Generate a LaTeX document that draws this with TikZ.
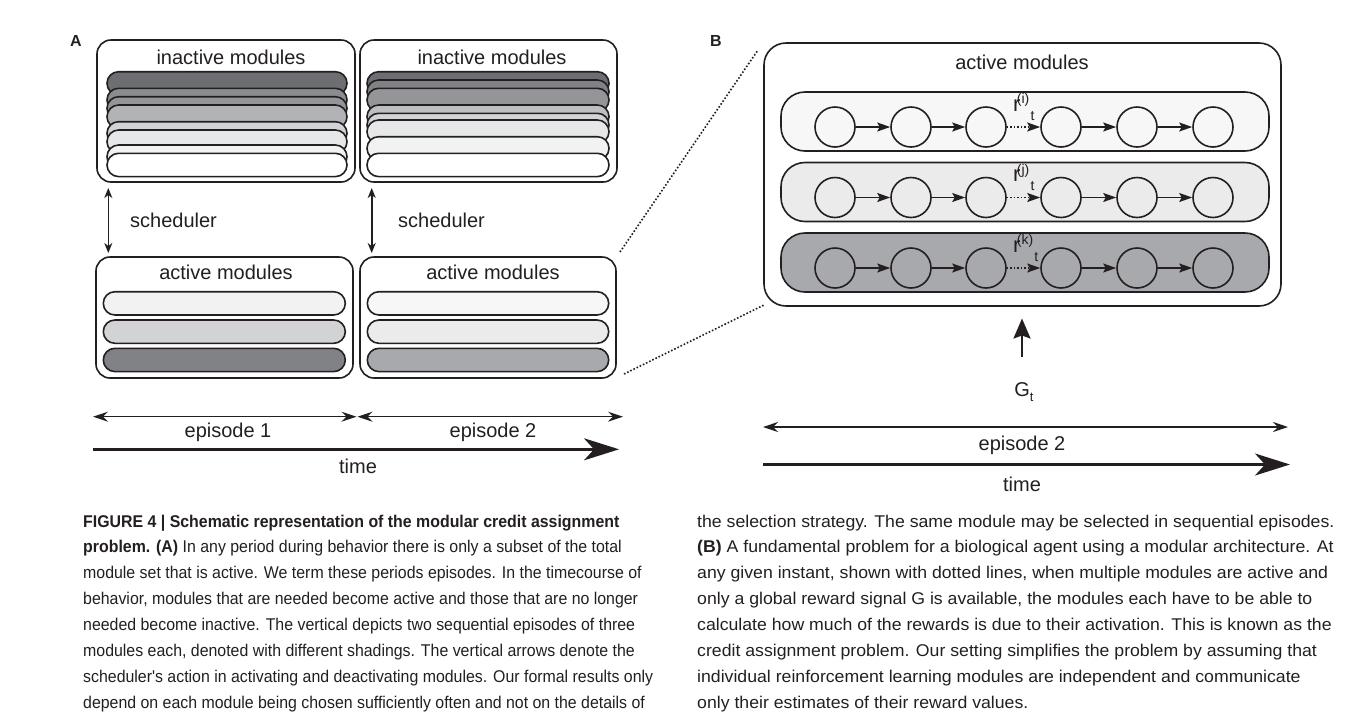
\documentclass[tikz,border=0pt]{standalone}
\usepackage{fontspec}
\setmainfont{Liberation Sans}
\newfontfamily\capfontL[FakeStretch=0.935]{Liberation Sans}
\newfontfamily\capfontR[FakeStretch=1.04]{Liberation Sans}
\usetikzlibrary{arrows.meta}
\definecolor{ink}{HTML}{231F20}
\definecolor{c6D6E71}{HTML}{6D6E71}
\definecolor{c808285}{HTML}{808285}
\definecolor{c8A8C8E}{HTML}{8A8C8E}
\definecolor{c939598}{HTML}{939598}
\definecolor{cB1B3B6}{HTML}{B1B3B6}
\definecolor{cBCBEC0}{HTML}{BCBEC0}
\definecolor{cD1D3D4}{HTML}{D1D3D4}
\definecolor{cE6E7E8}{HTML}{E6E7E8}
\definecolor{cF1F2F2}{HTML}{F1F2F2}
\definecolor{cF7F7F7}{HTML}{F7F7F7}
\definecolor{cEBEBEC}{HTML}{EBEBEC}
\definecolor{cA7A9AC}{HTML}{A7A9AC}
\definecolor{cFFFFFF}{HTML}{FFFFFF}
\tikzset{
  box/.style={draw=ink, line width=1.6pt, rounded corners=14pt, inner sep=0pt, fill=white},
  lbl/.style={font=\fontsize{20}{24}\selectfont, text=ink, inner sep=0pt},
  panel/.style={font=\fontsize{16}{19}\selectfont\bfseries, text=ink, inner sep=0pt},
  pill/.style={draw=ink, line width=1.6pt, rounded corners=11.6pt},
  row/.style={draw=ink, line width=1.6pt, rounded corners=24pt},
  st/.style={circle, draw=ink, line width=1.6pt, minimum size=40pt, inner sep=0pt},
  link/.style={draw=ink, line width=1.4pt, -{Stealth[length=13pt,width=9pt,inset=2.5pt]}},
  dlink/.style={link, dash pattern=on 1.5pt off 2pt},
  sched/.style={draw=ink, line width=1.6pt, {Stealth[length=10pt,width=8pt,inset=3pt]}-{Stealth[length=10pt,width=8pt,inset=3pt]}},
  epi/.style={draw=ink, line width=1.4pt, {Stealth[length=15pt,width=10pt,inset=5pt]}-{Stealth[length=15pt,width=10pt,inset=5pt]}},
  timearr/.style={draw=ink, line width=2.4pt, -{Stealth[length=35pt,width=22pt,inset=10pt]}},
  uparr/.style={draw=ink, line width=2.2pt, -{Stealth[length=20pt,width=17pt,inset=3pt]}},
  dotline/.style={draw=ink, line width=1.6pt, dash pattern=on 1.6pt off 1.9pt},
  capL/.style={font=\capfontL\fontsize{17}{20}\selectfont, text=ink, inner sep=0pt, anchor=base west},
  capR/.style={font=\capfontR\fontsize{17}{20}\selectfont, text=ink, inner sep=0pt, anchor=base west},
  rlab/.style={font=\fontsize{22}{26}\selectfont, text=ink, inner sep=0pt, anchor=base west}
}
\newcommand{\rl}[1]{r\hspace{-3.6pt}\raisebox{7.5pt}{\fontsize{14}{16}\selectfont(#1)}\hspace{1.2pt}\raisebox{-9pt}{\fontsize{14}{16}\selectfont t}}
\begin{document}
\begin{tikzpicture}[x=1pt,y=-1pt]
\useasboundingbox (0,0) rectangle (1357,713);

% ---------- Panel A ----------
\node[panel] (labA) at (76,41) {A};
\node[box, minimum width=258pt, minimum height=142pt] (A1t) at (226,111) {};
\node[box, minimum width=257pt, minimum height=142pt] (A2t) at (488.5,111) {};
\node[lbl] (A1tl) at (231,57) {inactive modules};
\node[lbl] (A2tl) at (492,57) {inactive modules};
\foreach \t/\c in {71.7/6D6E71, 88.3/8A8C8E, 96.7/939598, 105/B1B3B6, 121.7/D1D3D4, 130/E6E7E8, 145/F1F2F2, 153.3/FFFFFF}
  \filldraw[pill, fill=c\c] (107,\t) rectangle (347,\t+23.3);
\foreach \t/\c in {71.7/6D6E71, 80/808285, 88.3/939598, 105/BCBEC0, 113.3/D1D3D4, 120/E6E7E8, 136.7/F1F2F2, 153.3/FFFFFF}
  \filldraw[pill, fill=c\c] (367,\t) rectangle (609,\t+23.3);

\node[box, minimum width=257pt, minimum height=121pt] (A1b) at (224.5,317.5) {};
\node[box, minimum width=256pt, minimum height=121pt] (A2b) at (488,317.5) {};
\node[lbl] (A1bl) at (226,272) {active modules};
\node[lbl] (A2bl) at (493,272) {active modules};
\foreach \t/\c in {291.7/F1F2F2, 320/D1D3D4, 348.3/808285}
  \filldraw[pill, fill=c\c] (103.3,\t) rectangle (345.3,\t+23.3);
\foreach \t/\c in {291.7/F7F7F7, 320/EBEBEC, 348.3/A7A9AC}
  \filldraw[pill, fill=c\c] (367.3,\t) rectangle (608.7,\t+23.3);

\coordinate (s1a) at (108.3,188);
\coordinate (s1b) at (108.3,253);
\coordinate (s2a) at (371.7,188);
\coordinate (s2b) at (371.7,253);
\draw[sched] (s1a) -- (s1b);
\draw[sched] (s2a) -- (s2b);
\node[lbl, anchor=west] (sch1) at (130,220) {scheduler};
\node[lbl, anchor=west] (sch2) at (398,220) {scheduler};

\coordinate (e1a) at (93,416.7);
\coordinate (e1b) at (356.5,416.7);
\coordinate (e2a) at (357.5,416.7);
\coordinate (e2b) at (623,416.7);
\draw[epi] (e1a) -- (e1b);
\draw[epi] (e2a) -- (e2b);
\node[lbl] (ep1) at (228,432) {episode 1};
\node[lbl] (ep2) at (493,432) {episode 2};
\coordinate (ta) at (93,449.3);
\coordinate (tb) at (619,449.3);
\draw[timearr] (ta) -- (tb);
\node[lbl] (timeA) at (358,466) {time};

% ---------- dotted zoom lines ----------
\coordinate (u1) at (620,252);
\coordinate (u2) at (758,50);
\coordinate (l1) at (624,374);
\coordinate (l2) at (764,305);
\draw[dotline] (u1) -- (u2);
\draw[dotline] (l1) -- (l2);

% ---------- Panel B ----------
\node[panel] (labB) at (716,41) {B};
\node[box, rounded corners=22pt, minimum width=517pt, minimum height=263pt] (Bbox) at (1022.5,174.5) {};
\node[lbl] (Bl) at (1022,62) {active modules};
\foreach \r/\t/\c/\m in {1/92/F7F7F7/i, 2/162.5/EBEBEC/j, 3/233/A7A9AC/k} {
  \filldraw[row, fill=c\c] (781,\t) rectangle (1269,\t+59);
  \foreach \k/\x in {1/835, 2/911, 3/986, 4/1061, 5/1137, 6/1213}
    \node[st] (c\r\k) at (\x,\t+35) {};
  \draw[link] (c\r1) -- (c\r2);
  \draw[link] (c\r2) -- (c\r3);
  \draw[dlink] (c\r3) -- (c\r4);
  \draw[link] (c\r4) -- (c\r5);
  \draw[link] (c\r5) -- (c\r6);
  \node[rlab] (r\r) at (1013,\t+19) {\rl{\m}};
}
\coordinate (ga) at (1022,357);
\coordinate (gb) at (1022,318.5);
\draw[uparr] (ga) -- (gb);
\node[lbl] (G) at (1024,392) {G\raisebox{-5pt}{\fontsize{13}{15}\selectfont t}};
\coordinate (be1) at (763,427);
\coordinate (be2) at (1288,427);
\draw[epi] (be1) -- (be2);
\node[lbl] (bep) at (1022,445) {episode 2};
\coordinate (bt1) at (763,464.5);
\coordinate (bt2) at (1290,464.5);
\draw[timearr] (bt1) -- (bt2);
\node[lbl] (timeB) at (1022,484) {time};

% ---------- caption ----------
\node[capL] (cl1) at (83,527) {\textbf{FIGURE 4 | Schematic representation of the modular credit assignment}};
\node[capL] (cl2) at (83,552.9) {\textbf{problem. (A)} In any period during behavior there is only a subset of the total};
\node[capL] (cl3) at (83,578.8) {module set that is active. We term these periods episodes. In the timecourse of};
\node[capL] (cl4) at (83,604.7) {behavior, modules that are needed become active and those that are no longer};
\node[capL] (cl5) at (83,630.6) {needed become inactive. The vertical depicts two sequential episodes of three};
\node[capL] (cl6) at (83,656.5) {modules each, denoted with different shadings. The vertical arrows denote the};
\node[capL] (cl7) at (83,682.4) {scheduler's action in activating and deactivating modules. Our formal results only};
\node[capL] (cl8) at (83,708.3) {depend on each module being chosen sufficiently often and not on the details of};
\node[capR] (cr1) at (697,527) {the selection strategy. The same module may be selected in sequential episodes.};
\node[capR] (cr2) at (697,552.9) {\textbf{(B)} A fundamental problem for a biological agent using a modular architecture. At};
\node[capR] (cr3) at (697,578.8) {any given instant, shown with dotted lines, when multiple modules are active and};
\node[capR] (cr4) at (697,604.7) {only a global reward signal G is available, the modules each have to be able to};
\node[capR] (cr5) at (697,630.6) {calculate how much of the rewards is due to their activation. This is known as the};
\node[capR] (cr6) at (697,656.5) {credit assignment problem. Our setting simplifies the problem by assuming that};
\node[capR] (cr7) at (697,682.4) {individual reinforcement learning modules are independent and communicate};
\node[capR] (cr8) at (697,708.3) {only their estimates of their reward values.};
\end{tikzpicture}
\end{document}
